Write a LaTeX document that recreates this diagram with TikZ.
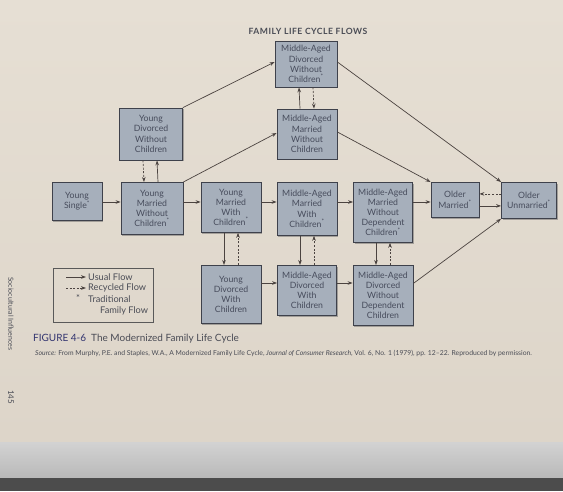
\documentclass[tikz,border=0pt]{standalone}
\usepackage{fontspec}
\setmainfont{Lato}
\usetikzlibrary{arrows.meta,shadows}

\definecolor{page}{HTML}{E6DFD4}
\definecolor{pagelow}{HTML}{DDD5C9}
\definecolor{boxfill}{HTML}{A6AFBB}
\definecolor{boxline}{HTML}{3E414B}
\definecolor{boxtext}{HTML}{474C5C}
\definecolor{flowline}{HTML}{4B4340}
\definecolor{inktext}{HTML}{4A4C55}

\def\rowtop{182}
\def\lowtop{265}
\def\off{7pt}

\begin{document}
\begin{tikzpicture}[x=1pt,y=-1pt,
  stage/.style={draw=boxline, fill=boxfill, line width=0.8pt, align=center,
    inner sep=1pt, text=boxtext, font=\fontsize{8.7}{10.2}\selectfont,
    drop shadow={shadow xshift=1.3pt, shadow yshift=-1.3pt, fill=black!60, opacity=0.5}},
  usual/.style={draw=flowline, line width=0.7pt, -{Stealth[length=5pt,width=3.6pt]}},
  recycled/.style={usual, dash pattern=on 2pt off 1.6pt},
  ink/.style={text=inktext, inner sep=0pt},
  legendtxt/.style={ink, font=\fontsize{9.2}{11}\selectfont}]

  % page
  \shade[top color=page, bottom color=pagelow] (0,0) rectangle (563,442);
  \shade[top color=gray!35, bottom color=gray!55] (0,442) rectangle (563,478);
  \fill[fill=black!70] (0,478) rectangle (563,491);
  \useasboundingbox (0,0) rectangle (563,491);

  \node[ink, font=\bfseries\fontsize{8.6}{10}\selectfont\addfontfeature{LetterSpace=6}] (title) at (308,31)
    {FAMILY LIFE CYCLE FLOWS};

  % upper stages
  \node[stage, minimum width=62pt, minimum height=46pt] (mado) at (306,64)
    {Middle-Aged\\Divorced\\Without\\Children\textsuperscript{*}};
  \node[stage, minimum width=63pt, minimum height=52pt] (ydwo) at (151,134)
    {Young\\Divorced\\Without\\Children};
  \node[stage, minimum width=60pt, minimum height=50pt] (mamwo) at (307,134)
    {Middle-Aged\\Married\\Without\\Children};

  % traditional row
  \node[stage, anchor=north, minimum width=50pt, minimum height=38pt] (ys) at (77,\rowtop)
    {Young\\Single\textsuperscript{*}};
  \node[stage, anchor=north, minimum width=62pt, minimum height=52pt] (ymwo) at (152,\rowtop)
    {Young\\Married\\Without\\Children\textsuperscript{*}};
  \node[stage, anchor=north, minimum width=60pt, minimum height=50pt] (ymwc) at (231,\rowtop)
    {Young\\Married\\With\\Children\textsuperscript{*}};
  \node[stage, anchor=north, minimum width=60pt, minimum height=53pt] (mamwc) at (307,\rowtop)
    {Middle-Aged\\Married\\With\\Children\textsuperscript{*}};
  \node[stage, anchor=north, minimum width=59pt, minimum height=60pt] (mamwodc) at (383,\rowtop)
    {Middle-Aged\\Married\\Without\\Dependent\\Children\textsuperscript{*}};
  \node[stage, anchor=north, minimum width=48pt, minimum height=35pt] (om) at (455,\rowtop)
    {Older\\Married\textsuperscript{*}};
  \node[stage, anchor=north, minimum width=55pt, minimum height=36pt] (ou) at (529,\rowtop)
    {Older\\Unmarried\textsuperscript{*}};

  % lower stages
  \node[stage, anchor=north, minimum width=60pt, minimum height=58pt] (ydwc) at (231,\lowtop)
    {Young\\Divorced\\With\\Children};
  \node[stage, anchor=north, minimum width=59pt, minimum height=50pt] (madwc) at (307,\lowtop)
    {Middle-Aged\\Divorced\\With\\Children};
  \node[stage, anchor=north, minimum width=60pt, minimum height=60pt] (madwodc) at (383,\lowtop)
    {Middle-Aged\\Divorced\\Without\\Dependent\\Children};

  % flows along the row
  \foreach \a/\b in {ys/ymwo, ymwo/ymwc, ymwc/mamwc, mamwc/mamwodc, mamwodc/om}
    \draw[usual] ([yshift=-20pt]\a.north east) -- ([yshift=-20pt]\b.north west);
  \foreach \a/\b in {ydwc/madwc, madwc/madwodc}
    \draw[usual] ([yshift=-18pt]\a.north east) -- ([yshift=-18pt]\b.north west);
  \draw[usual] ([yshift=-6pt]om.east) -- ([yshift=-6pt]om.east -| ou.west);
  \draw[recycled] ([yshift=6pt]om.east -| ou.west) -- ([yshift=6pt]om.east);

  % down and back
  \foreach \a/\b in {ymwc/ydwc, mamwc/madwc, mamwodc/madwodc}{
    \draw[usual] ([xshift=-\off]\a.south) -- ([xshift=-\off]\b.north);
    \draw[recycled] ([xshift=\off]\b.north) -- ([xshift=\off]\a.south);
  }
  \draw[usual] ([xshift=6pt]ymwo.north) -- ([xshift=6pt]ydwo.south);
  \draw[recycled] ([xshift=-8pt]ydwo.south) -- ([xshift=-8pt]ymwo.north);
  \draw[usual] ([xshift=-\off]mamwo.north) -- ([xshift=-\off]mado.south);
  \draw[recycled] ([xshift=\off]mado.south) -- ([xshift=\off]mamwo.north);

  % diagonals
  \draw[usual] (ydwo.north east) -- ([yshift=2pt]mado.west);
  \draw[usual] (ymwo.north east) -- ([yshift=1pt]mamwo.west);
  \draw[usual] ([yshift=2pt]mamwo.east) -- (om.north west);
  \draw[usual] ([yshift=2pt]mado.east) -- (ou.north west);
  \draw[usual] ([yshift=12pt]madwodc.east) -- (ou.south west);

  % legend
  \node[draw=gray!70!black, line width=0.6pt, minimum width=100pt, minimum height=54pt,
    anchor=north west] (legend) at (53,268) {};
  \coordinate (usualA) at (66,277);
  \coordinate (usualB) at (86,277);
  \coordinate (recycA) at (66,288);
  \coordinate (recycB) at (86,288);
  \draw[usual] (usualA) -- (usualB);
  \draw[recycled] (recycA) -- (recycB);
  \node[legendtxt, anchor=west] (usualtxt) at (88,277) {Usual Flow};
  \node[legendtxt, anchor=west] (recyctxt) at (88,288) {Recycled Flow};
  \node[legendtxt] (star) at (78,298) {*};
  \node[legendtxt, anchor=west] (tradtxt) at (88,299) {Traditional};
  \node[legendtxt, anchor=west] (famtxt) at (100,311) {Family Flow};

  % caption
  \node[ink, anchor=west, font=\fontsize{10}{12}\selectfont] (caption) at (33,339)
    {\textcolor{boxline!80!blue}{FIGURE 4-6}\enspace The Modernized Family Life Cycle};
  \node[ink, anchor=west, font=\fontsize{6.8}{8}\selectfont] (source) at (35,353)
    {\textit{Source:} From Murphy, P.E. and Staples, W.A., A Modernized Family Life Cycle,
     \textit{Journal of Consumer Research}, Vol. 6, No. 1 (1979), pp. 12--22. Reproduced by permission.};

  % running head
  \node[ink, rotate=-90, anchor=west, font=\fontsize{7}{8}\selectfont] (runhead) at (11,277) {Sociocultural Influences};
  \node[ink, rotate=-90, anchor=west, font=\fontsize{8}{9}\selectfont] (folio) at (11,390) {145};
\end{tikzpicture}
\end{document}
